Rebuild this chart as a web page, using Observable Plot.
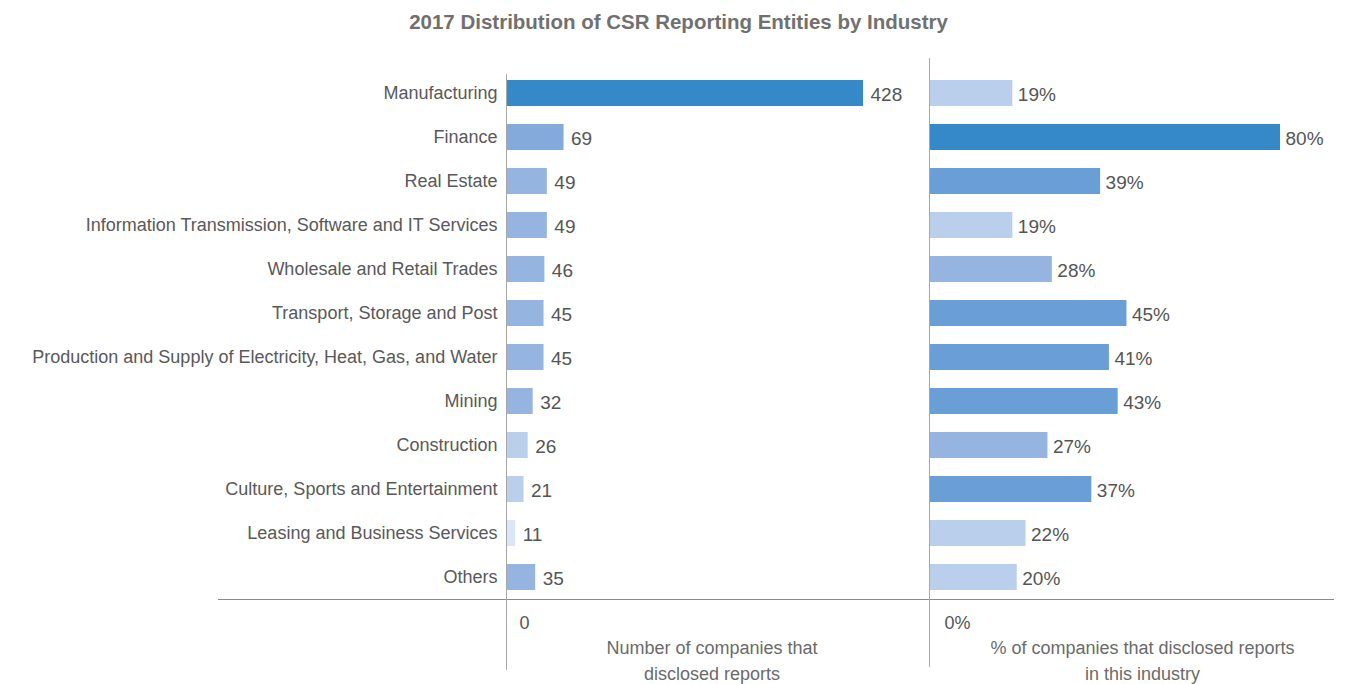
<!DOCTYPE html>
<html>
<head>
<meta charset="utf-8">
<script src="https://cdn.jsdelivr.net/npm/d3@7"></script>
<script src="https://cdn.jsdelivr.net/npm/@observablehq/plot@0.6"></script>
<style>
  html, body { margin: 0; padding: 0; background: #fff; }
  #wrap { position: relative; width: 1357px; height: 684px; overflow: hidden; font-family: "Liberation Sans", Arial, sans-serif; }
  #title { position: absolute; top: 10px; left: 0; width: 1357px; text-align: center; font-size: 20.5px; font-weight: bold; color: #707070; }
  #left { position: absolute; left: 0; top: 0; }
  #right { position: absolute; left: 925px; top: 0; }
</style>
</head>
<body>
<div id="wrap">
  <div id="title">2017 Distribution of CSR Reporting Entities by Industry</div>
  <div id="left"></div>
  <div id="right"></div>
</div>
<script>
const industries = [
  "Manufacturing",
  "Finance",
  "Real Estate",
  "Information Transmission, Software and IT Services",
  "Wholesale and Retail Trades",
  "Transport, Storage and Post",
  "Production and Supply of Electricity, Heat, Gas, and Water",
  "Mining",
  "Construction",
  "Culture, Sports and Entertainment",
  "Leasing and Business Services",
  "Others"
];
const companyCounts = [428, 69, 49, 49, 46, 45, 45, 32, 26, 21, 11, 35];
const disclosurePct = [19, 80, 39, 19, 28, 45, 41, 43, 27, 37, 22, 20];
const leftTicks = [0];
const rightTicks = [0];
const leftAxisTitle = "Number of companies that\ndisclosed reports";
const rightAxisTitle = "% of companies that disclosed reports\nin this industry";

const rows = industries.map((name, i) => ({name, count: companyCounts[i], pct: disclosurePct[i]}));

const H = 684;
const yScale = {domain: industries, range: [79, 591], paddingInner: 0.41, paddingOuter: 0};
const baseStyle = {fontFamily: "'Liberation Sans', Arial, sans-serif", fontSize: "18px", color: "#595959", background: "transparent"};

const left = Plot.plot({
  width: 925,
  height: H,
  marginLeft: 218,
  marginRight: 0,
  marginTop: 74,
  marginBottom: 85,
  style: baseStyle,
  x: {domain: [0, 428], range: [506, 863], axis: null},
  y: {...yScale, axis: null},
  color: {type: "threshold", domain: [20, 30, 60, 100], range: ["#dde6f6", "#bacfec", "#95b5e0", "#84aadc", "#3589c9"]},
  marks: [
    Plot.barX(rows, {x: "count", y: "name", fill: "count"}),
    Plot.text(rows, {x: "count", y: "name", text: d => String(d.count), textAnchor: "start", dx: 7, dy: 1, fill: "#555", fontSize: 19}),
    Plot.axisY({tickSize: 0, tickPadding: 0, dx: 279, label: null, fill: "#595959", fontSize: 18}),
    Plot.axisX({ticks: leftTicks, tickSize: 0, tickPadding: 17, dx: 18, label: null, fill: "#555", fontSize: 18}),
    Plot.frame({anchor: "bottom", stroke: "#8a8a8a"}),
    Plot.ruleX([0], {stroke: "#a8a8a8", insetBottom: -71}),
    Plot.text([leftAxisTitle], {frameAnchor: "bottom", dx: 140, dy: 36, lineAnchor: "top", lineHeight: 1.45, fill: "#6a6a6a", fontSize: 18})
  ]
});
document.getElementById("left").appendChild(left);

const right = Plot.plot({
  width: 432,
  height: H,
  marginLeft: 0,
  marginRight: 24,
  marginTop: 58,
  marginBottom: 85,
  style: baseStyle,
  x: {domain: [0, 80], range: [4, 355], axis: null},
  y: {...yScale, axis: null},
  color: {type: "threshold", domain: [25, 35, 60], range: ["#bacfec", "#95b5e0", "#6a9ed6", "#3589c9"]},
  marks: [
    Plot.barX(rows, {x: "pct", y: "name", fill: "pct"}),
    Plot.text(rows, {x: "pct", y: "name", text: d => d.pct + "%", textAnchor: "start", dx: 5, dy: 1, fill: "#555", fontSize: 19}),
    Plot.axisX({ticks: rightTicks, tickSize: 0, tickPadding: 17, dx: 28, tickFormat: d => d + "%", label: null, fill: "#555", fontSize: 18}),
    Plot.frame({anchor: "bottom", stroke: "#8a8a8a"}),
    Plot.ruleX([0], {stroke: "#a8a8a8", insetBottom: -68}),
    Plot.text([rightAxisTitle], {frameAnchor: "bottom", dx: 13, dy: 36, lineAnchor: "top", lineHeight: 1.45, fill: "#6a6a6a", fontSize: 18})
  ]
});
document.getElementById("right").appendChild(right);
</script>
</body>
</html>
